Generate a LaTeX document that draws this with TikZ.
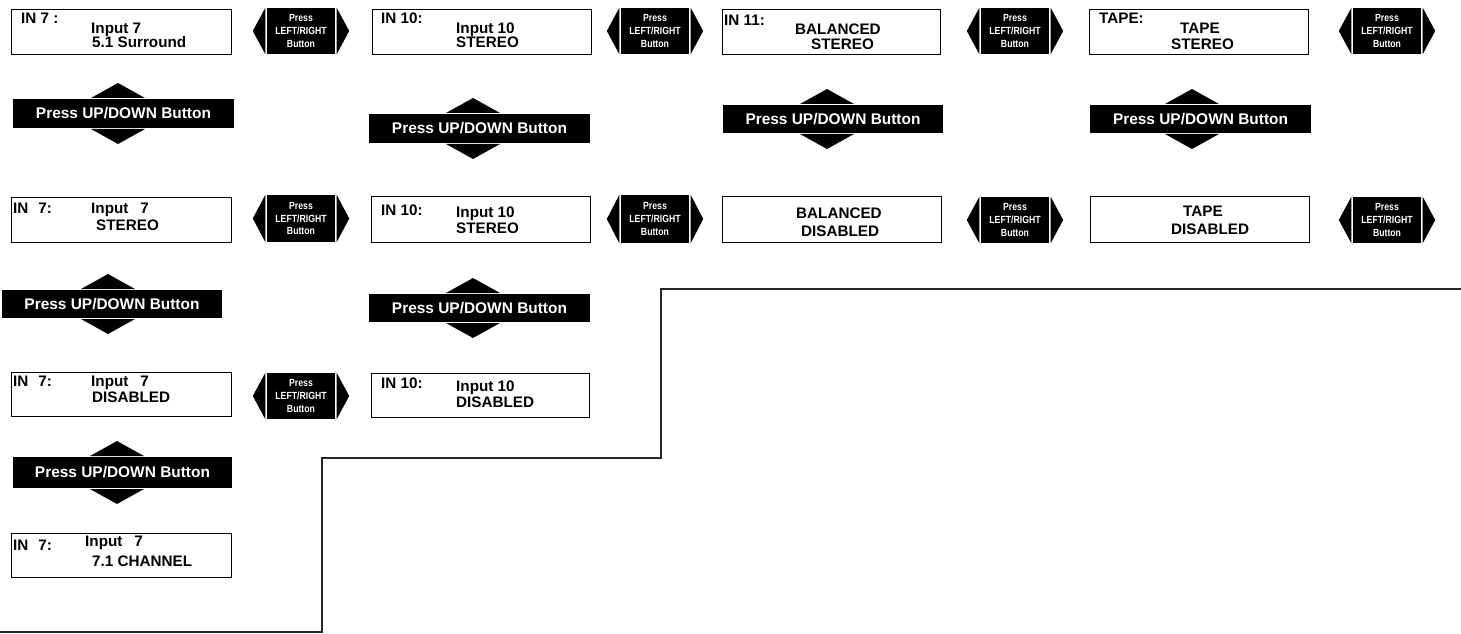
\documentclass[tikz,border=0pt]{standalone}
\usepackage{fontspec}
\setmainfont{Liberation Sans}
\newfontfamily\condfont[FakeStretch=0.84]{Liberation Sans}
\tikzset{
  disp/.style={draw, line width=1.3bp, rectangle, inner sep=0pt, anchor=north west},
  txt/.style={font=\fontsize{15.3}{15}\selectfont\bfseries, anchor=base west, inner sep=0pt},
  lrrect/.style={fill=black, inner sep=0pt, minimum width=68bp, text=white,
    font=\condfont\bfseries\fontsize{10.4}{12.8}\selectfont, align=center},
  udrect/.style={fill=black, inner sep=0pt, text=white,
    font=\bfseries\fontsize{15.5}{18}\selectfont},
  wire/.style={line width=1.6bp, black!85}
}
\newcommand\lrbtn[4]{%
  \node[lrrect, minimum height=#4bp] (#1) at (#2,#3) {Press\\LEFT/RIGHT\\Button};
  \fill ([xshift=-1.5bp]#1.north west) -- ([xshift=-1.5bp]#1.south west) -- ([xshift=-14bp]#1.west) -- cycle;
  \fill ([xshift=1.5bp]#1.north east) -- ([xshift=1.5bp]#1.south east) -- ([xshift=14bp]#1.east) -- cycle;
}
\newcommand\udbtn[6]{%
  \node[udrect, minimum width={(#4-#2)*1bp}, minimum height={(#5-#3)*1bp}] (#1) at ({(#2+#4)/2},{(#3+#5)/2}) {Press UP/DOWN Button};
  \fill ({#6-27},{#3-1}) -- ({#6+27},{#3-1}) -- (#6,{#3-16}) -- cycle;
  \fill ({#6-27},{#5+1}) -- ({#6+27},{#5+1}) -- (#6,{#5+16}) -- cycle;
}
\begin{document}
\begin{tikzpicture}[x=1bp,y=-1bp]
\useasboundingbox (0,0) rectangle (1461,634);

% ---- display boxes
\node[disp, minimum width=220bp, minimum height=45bp] (A1) at (11,9) {};
\node[disp, minimum width=219bp, minimum height=45bp] (B1) at (372,9) {};
\node[disp, minimum width=218bp, minimum height=45bp] (C1) at (722,9) {};
\node[disp, minimum width=219bp, minimum height=45bp] (D1) at (1089,9) {};
\node[disp, minimum width=220bp, minimum height=45bp] (A2) at (11,197) {};
\node[disp, minimum width=219bp, minimum height=46bp] (B2) at (371,196) {};
\node[disp, minimum width=219bp, minimum height=46bp] (C2) at (722,196) {};
\node[disp, minimum width=219bp, minimum height=46bp] (D2) at (1090,196) {};
\node[disp, minimum width=220bp, minimum height=44bp] (A3) at (11,372) {};
\node[disp, minimum width=218bp, minimum height=44bp] (B3) at (371,373) {};
\node[disp, minimum width=220bp, minimum height=44bp] (A4) at (11,533) {};

% ---- texts
\node[txt] (A1a) at (21,24) {IN 7 :};
\node[txt] (A1b) at (91,34) {Input 7};
\node[txt] (A1c) at (92,48) {5.1 Surround};
\node[txt] (B1a) at (381,23.5) {IN 10:};
\node[txt] (B1b) at (456,33.5) {Input 10};
\node[txt] (B1c) at (456,48) {STEREO};
\node[txt] (C1a) at (724,25.5) {IN 11:};
\node[txt] (C1b) at (795,35) {BALANCED};
\node[txt] (C1c) at (811,50) {STEREO};
\node[txt] (D1a) at (1099,23.5) {TAPE:};
\node[txt] (D1b) at (1180,34) {TAPE};
\node[txt] (D1c) at (1171,50) {STEREO};
\node[txt] (A2a) at (13,214) {IN\hspace{10bp}7:};
\node[txt] (A2b) at (91,214) {Input\hspace{12bp}7};
\node[txt] (A2c) at (96,230) {STEREO};
\node[txt] (B2a) at (381,215.5) {IN 10:};
\node[txt] (B2b) at (456,218) {Input 10};
\node[txt] (B2c) at (456,233.5) {STEREO};
\node[txt] (C2b) at (796,218.5) {BALANCED};
\node[txt] (C2c) at (801,236.5) {DISABLED};
\node[txt] (D2b) at (1183,217) {TAPE};
\node[txt] (D2c) at (1171,234.5) {DISABLED};
\node[txt] (A3a) at (13,386) {IN\hspace{10bp}7:};
\node[txt] (A3b) at (91,386) {Input\hspace{12bp}7};
\node[txt] (A3c) at (92,402) {DISABLED};
\node[txt] (B3a) at (381,388.5) {IN 10:};
\node[txt] (B3b) at (456,391) {Input 10};
\node[txt] (B3c) at (456,407.5) {DISABLED};
\node[txt] (A4a) at (13,550.5) {IN\hspace{10bp}7:};
\node[txt] (A4b) at (85,546.5) {Input\hspace{12bp}7};
\node[txt] (A4c) at (92,566.5) {7.1 CHANNEL};

% ---- LEFT/RIGHT buttons
\lrbtn{LRa}{301}{31}{46}
\lrbtn{LRb}{655}{31}{46}
\lrbtn{LRc}{1015}{31}{46}
\lrbtn{LRd}{1387}{31}{46}
\lrbtn{LRe}{301}{218.5}{47}
\lrbtn{LRf}{655}{219}{48}
\lrbtn{LRg}{1015}{220}{46}
\lrbtn{LRh}{1387}{220}{46}
\lrbtn{LRi}{301}{396}{46}

% ---- UP/DOWN buttons
\udbtn{UDa}{13}{99}{234}{128}{118}
\udbtn{UDb}{369}{114}{590}{143}{473}
\udbtn{UDc}{723}{105}{943}{133}{827}
\udbtn{UDd}{1090}{105}{1311}{133}{1192}
\udbtn{UDe}{2}{290}{222}{318}{108}
\udbtn{UDf}{369}{294}{590}{322}{473}
\udbtn{UDg}{13}{457}{232}{488}{117}

% ---- staircase rule
\coordinate (s0) at (1461,289);
\coordinate (s1) at (661,289);
\coordinate (s2) at (661,458);
\coordinate (s3) at (322,458);
\coordinate (s4) at (322,632);
\coordinate (s5) at (0,632);
\draw[wire] (s0) -- (s1) -- (s2) -- (s3) -- (s4) -- (s5);
\end{tikzpicture}
\end{document}
